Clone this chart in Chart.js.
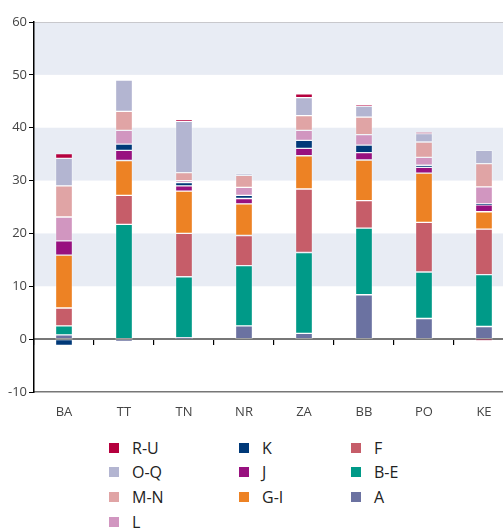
<!DOCTYPE html>
<html>
<head>
<meta charset="utf-8">
<script src="https://cdn.jsdelivr.net/npm/chart.js@4"></script>
<style>
  html, body { margin: 0; padding: 0; background: #fff; width: 503px; height: 528px; overflow: hidden; }
  #wrap { position: absolute; left: 0; top: 0; width: 503px; height: 425px; overflow: hidden; }
  #leg { position: absolute; left: 0; top: 0; width: 503px; font-family: "Open Sans", sans-serif; font-size: 16px; color: #222; }
  .it { position: absolute; height: 20px; line-height: 20px; white-space: nowrap; }
  .it i { position: absolute; left: 0; top: 5px; width: 10px; height: 10px; }
  .it span { position: absolute; top: 0; }
</style>
</head>
<body>
<div id="wrap"><canvas id="c" width="514" height="420"></canvas></div>
<div id="leg"></div>
<script>
'use strict';
// Stacked bars per region, branch groups A .. R-U (values in %)
const CATS = ['BA', 'TT', 'TN', 'NR', 'ZA', 'BB', 'PO', 'KE'];
const A  = [0.8, -0.5, 0.3, 2.5, 1.1, 8.4, 3.9, 2.4];
const BE = [1.7, 21.7, 11.5, 11.4, 15.3, 12.6, 8.8, 9.8];
const F  = [3.4, 5.5, 8.2, 5.7, 12.0, 5.2, 9.4, 8.6];
const GI = [10.0, 6.6, 8.0, 6.0, 6.3, 7.7, 9.3, 3.3];
const J  = [2.7, 1.9, 1.0, 1.0, 1.4, 1.4, 1.1, 1.3];
const K  = [-1.2, 1.2, 0.6, 0.6, 1.5, 1.4, 0.4, 0.2];
const L  = [4.5, 2.6, 0.4, 1.5, 1.9, 2.0, 1.5, 3.2];
const MN = [5.9, 3.6, 1.5, 2.3, 2.8, 3.3, 2.9, 4.4];
const OQ = [5.2, 5.9, 9.7, 0.3, 3.4, 2.1, 1.6, 2.5];
const RU = [0.9, 0, 0.4, 0, 0.7, 0.2, 0.2, -0.2];
const Y_TICKS = [-10, 0, 10, 20, 30, 40, 50, 60];
const BANDS = [[10, 20], [30, 40], [50, 60]];

const SERIES = [
  ['A', A, '#6b72a1'], ['B-E', BE, '#009a88'], ['F', F, '#c65d69'], ['G-I', GI, '#ed8224'],
  ['J', J, '#98117f'], ['K', K, '#003978'], ['L', L, '#d196c0'], ['M-N', MN, '#e0a4a5'],
  ['O-Q', OQ, '#b3b5d1'], ['R-U', RU, '#b5003e'],
];
// legend columns (as in the original, read top-down)
const LEG_COLS = [['R-U', 'O-Q', 'M-N', 'L'], ['K', 'J', 'G-I'], ['F', 'B-E', 'A']];

const font = { family: '"Open Sans", sans-serif', size: 13 };

const bands = {
  id: 'bands',
  beforeDraw(ch) {
    const { ctx, chartArea: a, scales: { y } } = ch;
    ctx.save();
    ctx.fillStyle = '#e8ecf4';
    BANDS.forEach(([lo, hi]) => {
      const t = y.getPixelForValue(hi), b = y.getPixelForValue(lo);
      ctx.fillRect(a.left, t, a.right - a.left, b - t);
    });
    ctx.strokeStyle = '#c8c8cc'; ctx.lineWidth = 1;
    const top = Math.round(y.getPixelForValue(60)) + 0.5;
    ctx.beginPath(); ctx.moveTo(a.left, top); ctx.lineTo(a.right, top); ctx.stroke();
    ctx.restore();
  },
};

const chart = new Chart(document.getElementById('c'), {
  type: 'bar',
  data: {
    labels: CATS,
    datasets: SERIES.map(([n, v, c]) => ({
      label: n, data: v, backgroundColor: c,
      borderColor: 'rgba(255,255,255,0.3)', borderWidth: 1, borderSkipped: false,
      barThickness: 17, xAxisID: 'x', yAxisID: 'y',
    })),
  },
  options: {
    responsive: false, animation: false, devicePixelRatio: 1,
    layout: { padding: { top: 22, right: 0, left: 0, bottom: 0 } },
    plugins: { legend: { display: false }, tooltip: { enabled: false } },
    scales: {
      x: {
        stacked: true, position: 'bottom',
        grid: { display: false, offset: true },
        border: { display: true, color: '#777', width: 1.5 },
        ticks: { color: '#444', font, padding: 4, maxRotation: 0 },
        afterFit: s => { s.height = 28; },
      },
      x2: {
        type: 'category', position: { y: 0 }, z: 1,
        grid: { display: true, offset: true, drawOnChartArea: false, drawTicks: true, tickLength: 5, color: '#000', lineWidth: 1.2 },
        border: { display: true, color: '#777', width: 2 },
        ticks: { display: false },
      },
      y: {
        stacked: true, min: -10, max: 60,
        afterBuildTicks: s => { s.ticks = Y_TICKS.map(v => ({ value: v })); },
        grid: { display: true, drawOnChartArea: false, drawTicks: true, tickLength: 5, color: '#000' },
        border: { display: true, color: '#000', width: 1.5 },
        ticks: { color: '#444', font, padding: 2 },
        afterFit: s => { s.width = 34; },
      },
    },
  },
  plugins: [bands],
});

// HTML legend built from the chart datasets
const leg = document.getElementById('leg');
const colX = [109, 239, 351], txtX = 23, rowY = [438, 462, 487, 512];
LEG_COLS.forEach((col, ci) => col.forEach((name, ri) => {
  const ds = chart.data.datasets.find(d => d.label === name);
  const it = document.createElement('div');
  it.className = 'it';
  it.style.left = colX[ci] + 'px'; it.style.top = rowY[ri] + 'px';
  it.innerHTML = `<i style="background:${ds.backgroundColor}"></i><span style="left:${txtX}px">${name}</span>`;
  leg.appendChild(it);
}));
</script>
</body>
</html>
